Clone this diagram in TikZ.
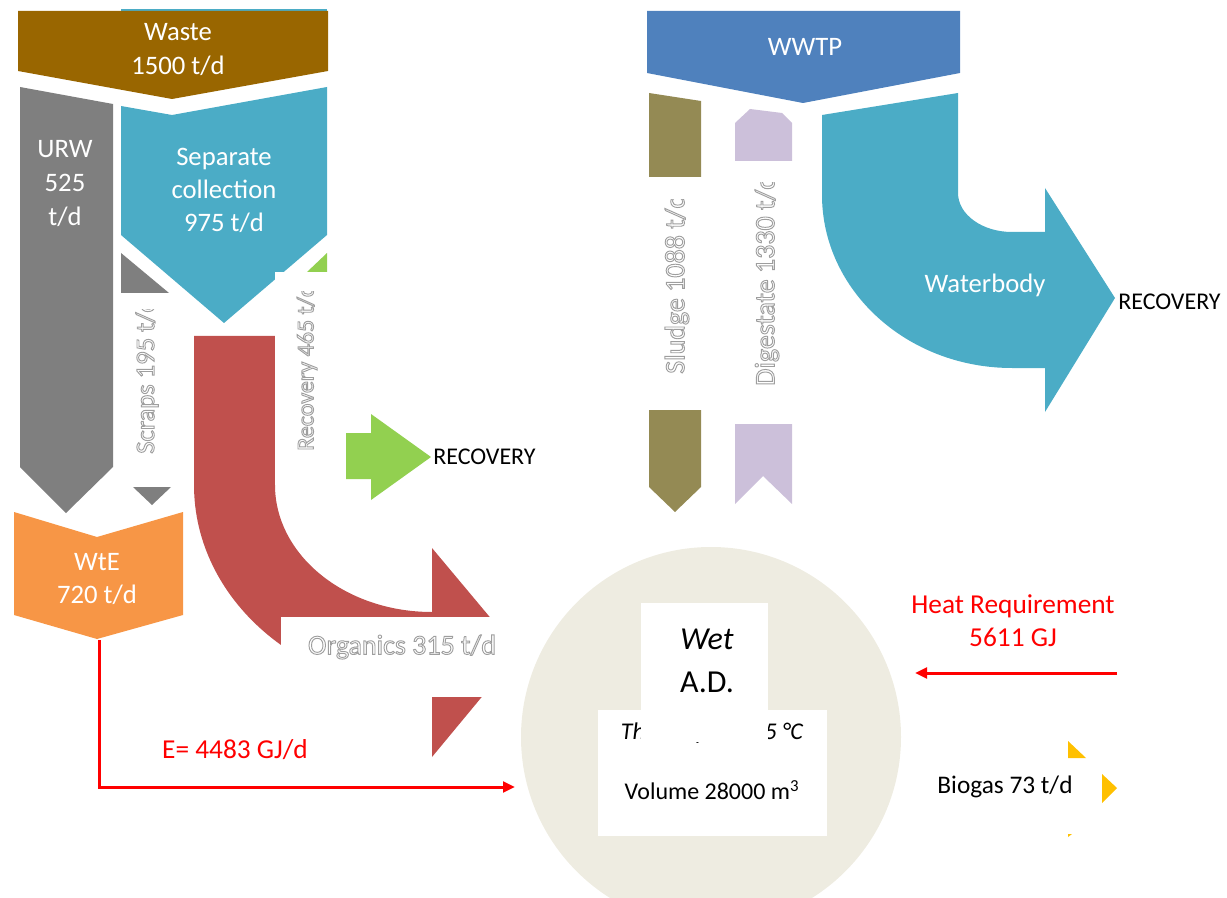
\documentclass[tikz,border=0pt]{standalone}
\usepackage{fontspec}
\setmainfont{Carlito}
\usetikzlibrary{arrows.meta}
\definecolor{cBrown}{HTML}{996600}
\definecolor{cGray}{HTML}{7F7F7F}
\definecolor{cTeal}{HTML}{4BACC6}
\definecolor{cRed}{HTML}{C0504D}
\definecolor{cGreen}{HTML}{92D050}
\definecolor{cOrange}{HTML}{F79646}
\definecolor{cBlue}{HTML}{4F81BD}
\definecolor{cOlive}{HTML}{948A54}
\definecolor{cLav}{HTML}{CCC0DA}
\definecolor{cYellow}{HTML}{FFC000}
\definecolor{cTan}{HTML}{EEECE1}
\newcommand{\ghost}[1]{\special{pdf:literal direct 0.62 0.62 0.62 RG 2 Tr 0.7 w}#1\special{pdf:literal direct 0 Tr}}
\tikzset{
  lbl/.style={text=white, font=\fontsize{20}{25}\selectfont, align=center, inner sep=0pt},
  ghostlbl/.style={text=white, font=\fontsize{20}{25}\selectfont, inner sep=0pt},
  blk/.style={text=black, font=\fontsize{18}{24}\selectfont, align=center, inner sep=0pt},
  redtxt/.style={text=red, font=\fontsize{20.5}{25}\selectfont, align=center, inner sep=0pt},
  flowline/.style={draw=red, line width=2.25pt, -{Triangle[length=9pt,width=8pt]}},
}
\begin{document}
\begin{tikzpicture}[x=0.75pt,y=-0.75pt]
\useasboundingbox (0,0) rectangle (1227,898);
% ---------- left: waste flows ----------
\fill[cTeal] (121,9) rectangle (327,13);
\fill[cBrown] (18,11) -- (328,11) -- (328,71) -- (172,99) -- (18,71) -- cycle;
\fill[cGray] (20,87) -- (113,104) -- (113,467) -- (66,513) -- (20,467) -- cycle;
\fill[cTeal] (121,106) -- (172,115) -- (327,87) -- (327,235) -- (224,323) -- (121,235) -- cycle;
\fill[cGray] (121,253) -- (121,293) -- (169,293) -- cycle;
\fill[cGray] (133,487) -- (171,487) -- (152,505) -- cycle;
\fill[cGreen] (327,253) -- (327,272) -- (307,272) -- cycle;
\fill[cRed] (194,336) -- (275,336) -- (275,485) .. controls (275,555) and (345,612) .. (432,612)
  -- (432,548) -- (519,652) -- (432,757) -- (432,692) .. controls (300.6,692) and (194,599.3) .. (194,485) -- cycle;
\fill[white] (275,272) rectangle (346,485);
\fill[white] (281,617) rectangle (520,697);
\fill[cGreen] (346,433) -- (371,433) -- (371,414) -- (431,457) -- (371,500) -- (371,479) -- (346,479) -- cycle;
\fill[cOrange] (14,512) -- (97,537) -- (183,512) -- (183,615) -- (97,639) -- (14,615) -- cycle;

\node[lbl, font=\fontsize{20}{25.5}\selectfont] (waste) at (178,50) {Waste\\1500 t/d};
\node[lbl, font=\fontsize{20}{25.5}\selectfont] (urw) at (65,184) {URW\\525\\t/d};
\node[lbl, font=\fontsize{20}{24.75}\selectfont] (sc) at (224,190) {Separate\\collection\\975 t/d};
\node[lbl, font=\fontsize{20}{24.75}\selectfont] (wte) at (97,579) {WtE\\720 t/d};
\node[blk, anchor=west] (rec1) at (433,457) {RECOVERY};

\begin{scope}
\clip (118,310) rectangle (178,470);
\node[ghostlbl, rotate=90, anchor=west] (scraps) at (147,454) {\ghost{Scraps 195 t/d}};
\end{scope}
\begin{scope}
\clip (280,292) rectangle (340,470);
\node[ghostlbl, rotate=90, anchor=west, font=\fontsize{18}{24}\selectfont] (recov) at (307,451) {\ghost{Recovery 465 t/d}};
\end{scope}
\node[ghostlbl, font=\fontsize{21}{25}\selectfont] (org) at (402,647) {\ghost{Organics 315 t/d}};

% ---------- right: WWTP ----------
\fill[cBlue] (647,11) -- (960,11) -- (960,73) -- (803,103) -- (647,73) -- cycle;
\fill[cOlive] (649,93) -- (701,101) -- (701,177) -- (649,177) -- cycle;
\fill[cOlive] (649,410) -- (701,410) -- (701,487) -- (675,512) -- (649,487) -- cycle;
\fill[cLav] (735,123) -- (750,109) -- (782,113) -- (792,123) -- (792,161) -- (735,161) -- cycle;
\fill[cLav] (735,424) -- (792,424) -- (792,504) -- (763,476) -- (735,504) -- cycle;
\fill[cTeal] (822,115) -- (958,93) -- (958,193) .. controls (958,214.5) and (982.2,232) .. (1012,232)
  -- (1045,232) -- (1045,188) -- (1115,298) -- (1045,412) -- (1045,368) -- (1012,368)
  .. controls (907.1,368) and (822,290.5) .. (822,195) -- cycle;

\node[lbl] (wwtp) at (805,47) {WWTP};
\node[lbl] (water) at (985,285) {Waterbody};
\node[blk, anchor=west] (rec2) at (1118,302) {RECOVERY};
\begin{scope}
\clip (655,200) rectangle (700,400);
\node[ghostlbl, rotate=90, anchor=west, font=\fontsize{21}{25}\selectfont] (sludge) at (677,374) {\ghost{Sludge 1088 t/d}};
\end{scope}
\begin{scope}
\clip (745,183) rectangle (790,400);
\node[ghostlbl, rotate=90, anchor=west, font=\fontsize{21}{25}\selectfont] (dig) at (767,386) {\ghost{Digestate 1330 t/d}};
\end{scope}

% ---------- digester ----------
\fill[cTan] (711,737) circle [radius=190];
\fill[white] (598,710) rectangle (827,836);
\node[blk, font=\fontsize{18}{24}\selectfont\itshape] (thermo) at (712,733) {Thermophilic 55 °C};
\fill[white] (641,603) rectangle (768,742);
\node[blk, font=\fontsize{24}{32}\selectfont] (wet) at (707,661) {\textit{Wet}\\A.D.};
\node[blk] (vol) at (712,790) {Volume 28000 m\textsuperscript{3}};

% ---------- energy ----------
\coordinate (wteb) at (99,640);
\coordinate (eend) at (515,787);
\draw[flowline] (wteb) |- (eend);
\node[redtxt] (etxt) at (235,750) {E= 4483 GJ/d};

\coordinate (hs) at (1117,673);
\coordinate (he) at (915,673);
\draw[flowline] (hs) -- (he);
\node[redtxt, font=\fontsize{20.5}{24.75}\selectfont] (heat) at (1013,621) {Heat Requirement\\5611 GJ};

% ---------- biogas ----------
\fill[cYellow] (1068,741) -- (1068,758) -- (1086,758) -- cycle;
\fill[cYellow] (1102,774) -- (1117,788) -- (1102,803) -- cycle;
\fill[cYellow] (1068,834) -- (1068,837) -- (1072,834) -- cycle;
\node[blk, font=\fontsize{19}{24}\selectfont] (bio) at (1005,787) {Biogas 73 t/d};
\end{tikzpicture}
\end{document}
